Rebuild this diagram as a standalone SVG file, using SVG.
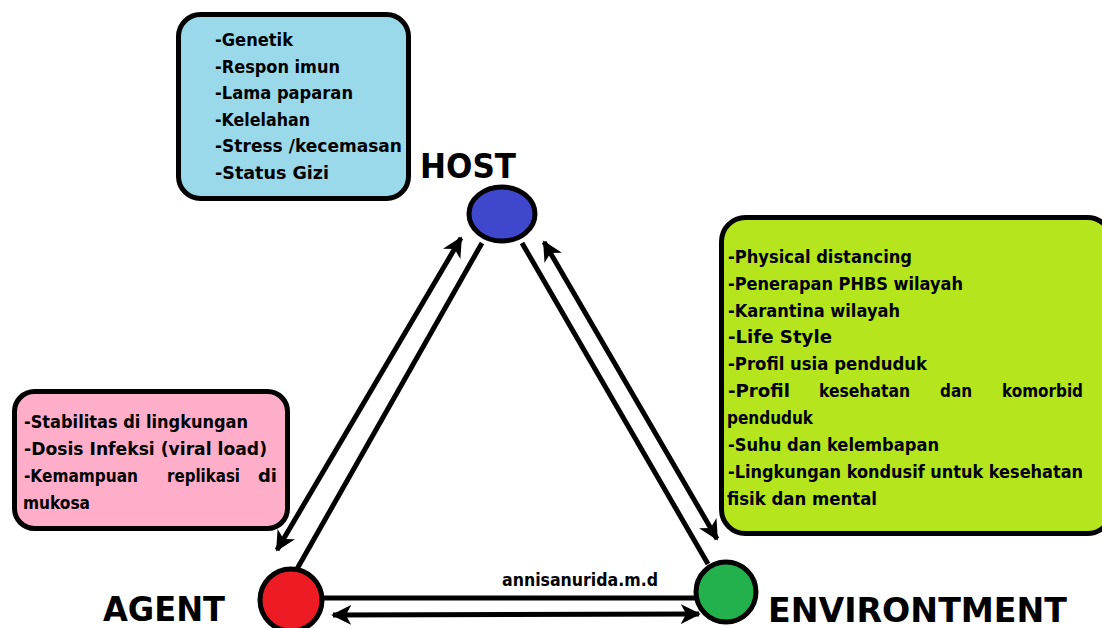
<svg xmlns="http://www.w3.org/2000/svg" width="1102" height="628" viewBox="0 0 1102 628">
<style>
.box{stroke:#000;stroke-width:5}
.t{font-family:"DejaVu Sans",sans-serif;font-size:17px;font-weight:bold;fill:#000}
.lbl{font-family:"DejaVu Sans",sans-serif;font-size:34px;font-weight:bold;fill:#000}
.ln{stroke:#000;stroke-width:5;fill:none}
.circ{stroke:#000;stroke-width:5}
</style>
<defs>
<marker id="ah" viewBox="0 0 12 12" refX="10" refY="6" markerWidth="22" markerHeight="22" markerUnits="userSpaceOnUse" orient="auto-start-reverse">
<path d="M0,0.5 L11,6 L0,11.5 L3,6 Z" fill="#000"/>
</marker>
</defs>
<rect width="1102" height="628" fill="#fff"/>
<g id="connectors">
<line class="ln" x1="277" y1="550" x2="461" y2="238" marker-start="url(#ah)" marker-end="url(#ah)"/>
<line class="ln" x1="297" y1="569" x2="482" y2="243"/>
<line class="ln" x1="522" y1="243" x2="708" y2="564"/>
<line class="ln" x1="544" y1="242" x2="717" y2="539" marker-start="url(#ah)" marker-end="url(#ah)"/>
<line class="ln" x1="322" y1="598" x2="697" y2="598"/>
<line class="ln" x1="333" y1="615" x2="699" y2="614" marker-start="url(#ah)" marker-end="url(#ah)"/>
</g>
<g id="host-box">
<rect class="box" x="178.5" y="14.5" width="230" height="184" rx="22" fill="#99D9EA"/>
<text class="t" x="215" y="46" textLength="78" lengthAdjust="spacingAndGlyphs">-Genetik</text>
<text class="t" x="215" y="73" textLength="125" lengthAdjust="spacingAndGlyphs">-Respon imun</text>
<text class="t" x="215" y="99" textLength="138" lengthAdjust="spacingAndGlyphs">-Lama paparan</text>
<text class="t" x="215" y="126" textLength="95" lengthAdjust="spacingAndGlyphs">-Kelelahan</text>
<text class="t" x="215" y="152" textLength="187" lengthAdjust="spacingAndGlyphs">-Stress /kecemasan</text>
<text class="t" x="215" y="179" textLength="114" lengthAdjust="spacingAndGlyphs">-Status Gizi</text>
</g>
<g id="host">
<ellipse class="circ" cx="502" cy="214" rx="33" ry="27" fill="#3F48CC"/>
<text class="lbl" x="420" y="178" textLength="96" lengthAdjust="spacingAndGlyphs">HOST</text>
</g>
<g id="env-box">
<rect class="box" x="721.5" y="217.5" width="390" height="316" rx="24" fill="#B5E61D"/>
<text class="t" x="728" y="263" textLength="184" lengthAdjust="spacingAndGlyphs">-Physical distancing</text>
<text class="t" x="728" y="290" textLength="235" lengthAdjust="spacingAndGlyphs">-Penerapan PHBS wilayah</text>
<text class="t" x="728" y="317" textLength="172" lengthAdjust="spacingAndGlyphs">-Karantina wilayah</text>
<text class="t" x="728" y="343" textLength="104" lengthAdjust="spacingAndGlyphs">-Life Style</text>
<text class="t" x="728" y="370" textLength="199" lengthAdjust="spacingAndGlyphs">-Profil usia penduduk</text>
<text class="t" x="728" y="397" textLength="62" lengthAdjust="spacingAndGlyphs">-Profil</text>
<text class="t" x="819" y="397" textLength="91" lengthAdjust="spacingAndGlyphs">kesehatan</text>
<text class="t" x="940" y="397" textLength="32" lengthAdjust="spacingAndGlyphs">dan</text>
<text class="t" x="1002" y="397" textLength="81" lengthAdjust="spacingAndGlyphs">komorbid</text>
<text class="t" x="727" y="424" textLength="86" lengthAdjust="spacingAndGlyphs">penduduk</text>
<text class="t" x="728" y="451" textLength="211" lengthAdjust="spacingAndGlyphs">-Suhu dan kelembapan</text>
<text class="t" x="728" y="478" textLength="355" lengthAdjust="spacingAndGlyphs">-Lingkungan kondusif untuk kesehatan</text>
<text class="t" x="727" y="505" textLength="150" lengthAdjust="spacingAndGlyphs">fisik dan mental</text>
</g>
<g id="agent-box">
<rect class="box" x="14.5" y="391.5" width="273" height="137" rx="20" fill="#FFAEC9"/>
<text class="t" x="24" y="428" textLength="224" lengthAdjust="spacingAndGlyphs">-Stabilitas di lingkungan</text>
<text class="t" x="24" y="455" textLength="243" lengthAdjust="spacingAndGlyphs">-Dosis Infeksi (viral load)</text>
<text class="t" x="24" y="482" textLength="114" lengthAdjust="spacingAndGlyphs">-Kemampuan</text>
<text class="t" x="167" y="482" textLength="73" lengthAdjust="spacingAndGlyphs">replikasi</text>
<text class="t" x="258" y="482" textLength="19" lengthAdjust="spacingAndGlyphs">di</text>
<text class="t" x="23" y="509" textLength="67" lengthAdjust="spacingAndGlyphs">mukosa</text>
</g>
<g id="agent">
<circle class="circ" cx="291" cy="600" r="31" fill="#ED1C24"/>
<text class="lbl" x="103" y="621" textLength="122" lengthAdjust="spacingAndGlyphs">AGENT</text>
</g>
<g id="environment">
<circle class="circ" cx="726" cy="592" r="30" fill="#22B14C"/>
<text class="lbl" x="768" y="622" textLength="299" lengthAdjust="spacingAndGlyphs">ENVIRONTMENT</text>
</g>
<text x="502" y="586" font-family="DejaVu Sans, sans-serif" font-size="17" font-weight="600" textLength="156" lengthAdjust="spacingAndGlyphs" fill="#000">annisanurida.m.d</text>
</svg>
